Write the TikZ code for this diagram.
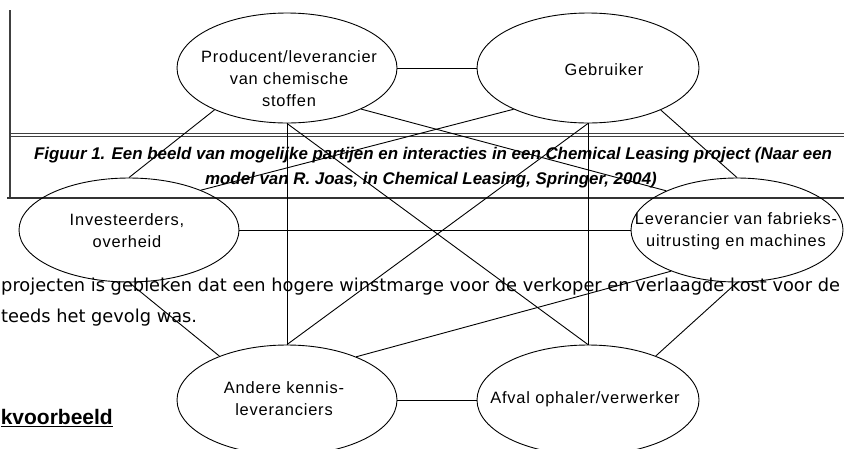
\documentclass[tikz,border=0pt]{standalone}
\usepackage{fontspec}
\setmainfont{Liberation Sans}
\newfontfamily\lblfont[LetterSpace=5]{Liberation Sans}
\newfontfamily\bodyfont{DejaVu Sans}
\usepackage{tikz}
\usetikzlibrary{shapes}
\tikzstyle{party}=[draw, ellipse, line width=0.9pt, inner sep=0pt]
\tikzstyle{partytext}=[align=center, inner sep=0pt, font=\lblfont\fontsize{16.4}{22}\selectfont]
\tikzstyle{link}=[line width=0.9pt]
\tikzstyle{frame}=[draw=black!75]
\tikzstyle{captext}=[inner sep=0pt, font=\bfseries\itshape\fontsize{16.9}{22}\selectfont]
\tikzstyle{bodytext}=[inner sep=0pt, font=\bodyfont\fontsize{17.8}{22}\selectfont]
\newcommand{\partyNbox}[4]{
	\node[party, minimum width=#3, minimum height=#4] (#1) at #2 {};
}

\begin{document}
\begin{tikzpicture}[x=1pt,y=-1pt]
	\clip (0,0) rectangle (844,448);
	\draw[frame, line width=2pt] (10,10) -- (10,199);
	\draw[frame, line width=1pt] (10,133.5) -- (844,133.5);
	\draw[frame, line width=1pt] (10,136.5) -- (844,136.5);
	\draw[black!80, line width=2.5pt] (7,198) -- (844,198);
	\node[captext] (cap1) at (433,155) {Figuur 1. Een beeld van mogelijke partijen en interacties in een Chemical Leasing project (Naar een};
	\node[captext] (cap2) at (431,180) {model van R. Joas, in Chemical Leasing, Springer, 2004)};
	\node[bodytext, anchor=west] (body1) at (1,287) {projecten is gebleken dat een hogere winstmarge voor de verkoper en verlaagde kost voor de};
	\node[bodytext, anchor=west] (body2) at (1,318) {teeds het gevolg was.};
	\node[inner sep=0pt, anchor=east, font=\bfseries\fontsize{21}{24}\selectfont] (kop) at (113,418) {\underline{kvoorbeeld}};
	\partyNbox{P}{(287,68)}{220pt}{110pt}
	\partyNbox{G}{(588,68)}{222pt}{110pt}
	\partyNbox{I}{(129,230)}{220pt}{104pt}
	\partyNbox{L}{(737,230)}{212pt}{104pt}
	\partyNbox{A}{(287,400)}{220pt}{110pt}
	\partyNbox{F}{(588,400)}{222pt}{110pt}
	\node[partytext] (Pt) at (289,79) {Producent/leverancier\\van chemische\\stoffen};
	\node[partytext] (Gt) at (604,70) {Gebruiker};
	\node[partytext] (It) at (127,231) {Investeerders,\\overheid};
	\node[partytext] (Lt) at (736,231) {Leverancier van fabrieks-\\uitrusting en machines};
	\node[partytext] (At) at (284,399) {Andere kennis-\\leveranciers};
	\node[partytext] (Ft) at (585,399) {Afval ophaler/verwerker};
	\draw[link] (P.east) -- (G.west);
	\draw[link] (I.east) -- (L.west);
	\draw[link] (A.east) -- (F.west);
	\draw[link] (P.south) -- (A.north);
	\draw[link] (G.south) -- (F.north);
	\draw[link] (P.south) -- (F.north);
	\draw[link] (G.south) -- (A.north);
	\draw[link] (P.-150) -- (I.north);
	\draw[link] (G.-30) -- (L.north);
	\draw[link] (P.-29) -- (L.151);
	\draw[link] (G.-151) -- (I.29);
	\draw[link] (I.south) -- (A.147);
	\draw[link] (L.south) -- (F.33);
	\draw[link] (A.32) -- (L.-148);
\end{tikzpicture}
\end{document}
